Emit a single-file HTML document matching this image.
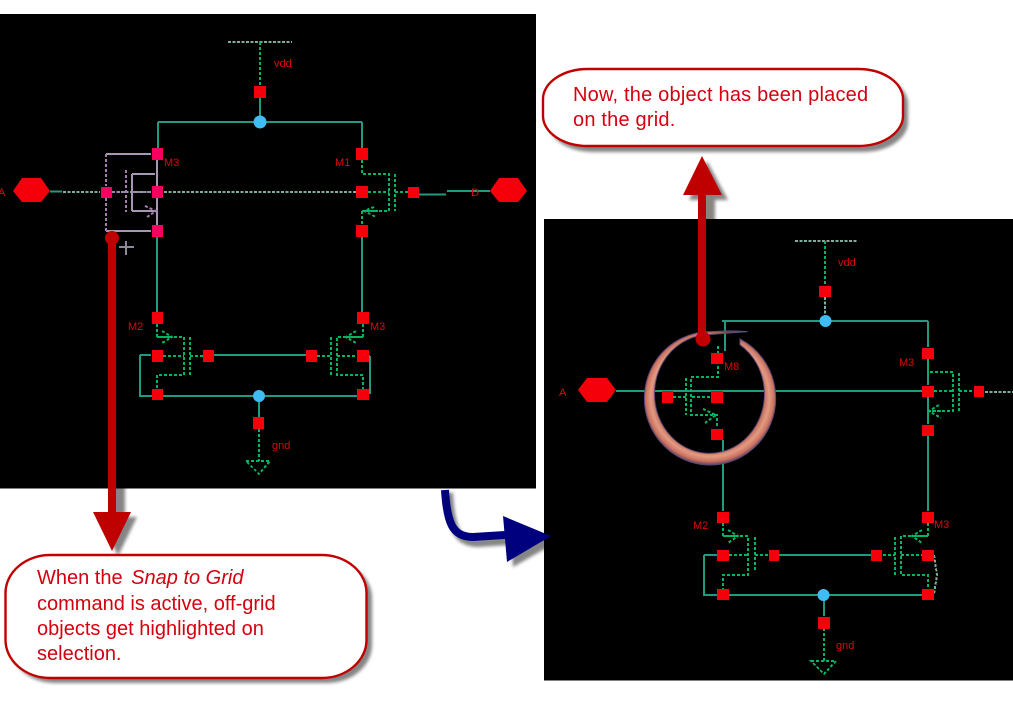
<!DOCTYPE html>
<html><head><meta charset="utf-8">
<style>
html,body{margin:0;padding:0;background:#fff;width:1013px;height:709px;overflow:hidden}
svg{display:block;position:absolute;left:0;top:0}
.w{stroke:#229a80;stroke-width:2;fill:none;shape-rendering:crispEdges}
.d{stroke:#00b562;stroke-width:2;fill:none;stroke-dasharray:3 2;shape-rendering:crispEdges}
.g{stroke:#7fae9f;stroke-width:2;fill:none;stroke-dasharray:3 1.5;shape-rendering:crispEdges}
.p{stroke:#a796b4;stroke-width:2;fill:none;shape-rendering:crispEdges}
.pd{stroke:#a87cb0;stroke-width:2;fill:none;stroke-dasharray:3 2;shape-rendering:crispEdges}
.s{fill:#f5000a;shape-rendering:crispEdges}
.k{fill:#f5005f;shape-rendering:crispEdges}
.b{fill:#3fbcf2}
.dm{fill:#f5000a}
.l{font:11px "Liberation Sans",sans-serif;fill:#dc0a0a}
.t{font:20px "Liberation Sans",sans-serif;fill:#d4000f}
</style></head><body>
<svg width="1013" height="709" viewBox="0 0 1013 709" xmlns="http://www.w3.org/2000/svg">
<defs>
<filter id="bl" x="-20%" y="-20%" width="140%" height="140%"><feGaussianBlur stdDeviation="1.6"/></filter>
<radialGradient id="ring" gradientUnits="userSpaceOnUse" cx="495" cy="322" r="202">
<stop offset="0.78" stop-color="#b95f4b"/>
<stop offset="0.88" stop-color="#e39a82"/>
<stop offset="0.95" stop-color="#cc7360"/>
<stop offset="1" stop-color="#6a4560"/>
</radialGradient>
</defs>

<!-- shadows -->
<g fill="#858585" filter="url(#bl)">
<rect x="10" y="560" width="362" height="123" rx="45" ry="38"/>
<rect x="548" y="74" width="360" height="78" rx="45" ry="30"/>
<polygon points="99,517 137,517 118,556"/>
<rect x="113" y="480" width="12" height="40"/>
<polygon points="689,200 728,200 707,161"/>
<rect x="703" y="195" width="12" height="30"/>
<path d="M449 493 C451 530 458 543 478 543 L509 541" fill="none" stroke="#858585" stroke-width="8"/>
<polygon points="509,522 513,567 557,542"/>
</g>

<!-- panels -->
<rect x="0" y="14" width="536" height="474.500" fill="#000"/>
<rect x="544" y="219" width="469" height="461.500" fill="#000"/>

<!-- LEFT schematic -->
<g>
<path class="g" d="M228 42H292"/>
<path class="d" d="M260 42V86"/>
<path class="w" d="M260 98V122M158 122H362M158 122V148M362 122V148M157 160V186M157 198V225M157 237V312M362 237V312M419 194.500H446"/>
<path class="w" d="M50 191.500H62M447 191H490M209 355H311M140 355H151M140 355V396H363M370 356V394M364 356H370M259 396V418"/>
<path class="g" d="M63 192H100M112 192H151M164 192H356"/>
<!-- selected device -->
<path class="p" d="M106 154H151M106 231H151M132 174V211M132 174H155M132 211H155M157 160V225"/>
<path class="pd" d="M106 154V186M106 198V231M126 170V212M112 192H126M132 192H151"/>
<path class="pd" d="M145 206L156 211L147 217"/>
<!-- M1 -->
<path class="d" d="M362 160V174H389V211H362V225M395 174V211M368 192H389M395 192H408M362 211H378M374 207L364 211L376 217"/>
<!-- M2 -->
<path class="d" d="M157 324V337H184V375H157V389M190 337V375M163 356H184M190 356H203M157 337H172M162 331L172 337L162 343"/>
<!-- M3 -->
<path class="d" d="M363 324V337H337V375H363V389M331 337V375M337 356H357M317 356H331M363 337H346M356 331L346 337L356 343"/>
<!-- gnd -->
<path class="d" d="M259 429V461M246 461H270L259 474Z"/>
<!-- nodes -->
<polygon class="dm" points="13,191 22,178 41,178 50,191 41,202 22,202"/>
<polygon class="dm" points="490,191 499,178 518,178 527,191 518,202 499,202"/>
<circle class="b" cx="260" cy="122" r="6.500"/>
<circle class="b" cx="259" cy="396" r="6"/>
<rect class="s" x="254" y="86" width="12" height="12"/>
<rect class="s" x="356" y="148" width="12" height="12"/>
<rect class="s" x="356" y="186" width="12" height="12"/>
<rect class="s" x="356" y="225" width="12" height="12"/>
<rect class="s" x="408" y="187" width="11" height="11"/>
<rect class="k" x="152" y="148" width="11" height="12"/>
<rect class="k" x="152" y="186" width="11" height="12"/>
<rect class="k" x="152" y="225" width="11" height="12"/>
<rect class="k" x="101" y="187" width="11" height="11"/>
<rect class="s" x="152" y="312" width="11" height="12"/>
<rect class="s" x="357" y="312" width="12" height="12"/>
<rect class="s" x="152" y="350" width="11" height="12"/>
<rect class="s" x="203" y="350" width="11" height="12"/>
<rect class="s" x="306" y="350" width="11" height="12"/>
<rect class="s" x="357" y="350" width="12" height="12"/>
<rect class="s" x="152" y="389" width="11" height="11"/>
<rect class="s" x="357" y="389" width="12" height="11"/>
<rect class="s" x="253" y="417" width="11" height="12"/>
<text class="l" x="-2" y="196">A</text>
<text class="l" x="471" y="196">D</text>
<text class="l" x="274" y="67">vdd</text>
<text class="l" x="164" y="166">M3</text>
<text class="l" x="335" y="166">M1</text>
<text class="l" x="128" y="330">M2</text>
<text class="l" x="370" y="330">M3</text>
<text class="l" x="272" y="449">gnd</text>
<!-- cursor -->
<path d="M119 247H134M126 241V255" stroke="#8a8a98" stroke-width="2" fill="none"/>
</g>

<!-- RIGHT schematic -->
<g>
<path class="g" d="M795 241H858"/>
<path class="d" d="M825 241V285"/>
<path class="g" d="M825 297V315"/>
<path class="w" d="M722 321H928M928 321V347M725 321V351M928 359V385M928 397V424M928 436V511M723 440V511M616 391H922"/>
<path class="w" d="M774 555H877M704 555H717M704 555V595H928M824 595V616"/>
<path class="g" d="M934 555L937 575L934 594M985 392H1013"/>
<!-- M8 -->
<path class="d" d="M718 346V377H691V415H717V428M686 378V415M673 397H686M692 397H711M703 409L716 415L705 423"/>
<!-- M1 -->
<path class="d" d="M928 359V372H953V411H928V424M959 373V411M934 391H953M959 391H973M928 411H945M939 405L929 411L941 418"/>
<!-- M2 -->
<path class="d" d="M723 523V536H748V575H723V589M755 537V572M729 555H748M755 555H768M723 536H738M728 530L738 536L728 543"/>
<!-- M3 -->
<path class="d" d="M928 523V536H901V575H928V589M895 537V575M901 555H922M883 555H895M928 536H913M922 530L912 536L922 543"/>
<!-- gnd -->
<path class="d" d="M824 628V661M811 661H836L824 674Z"/>
<polygon class="dm" points="578,390 587,378 607,378 616,390 607,402 587,402"/>
<circle class="b" cx="825.500" cy="321" r="6"/>
<circle class="b" cx="823.500" cy="595" r="6"/>
<rect class="s" x="819" y="286" width="12" height="11"/>
<rect class="s" x="922" y="348" width="12" height="11"/>
<rect class="s" x="922" y="386" width="12" height="11"/>
<rect class="s" x="922" y="425" width="12" height="11"/>
<rect class="s" x="974" y="386" width="10" height="11"/>
<rect class="s" x="662" y="391" width="11" height="12"/>
<rect class="s" x="711" y="353" width="12" height="11"/>
<rect class="s" x="711" y="391" width="12" height="12"/>
<rect class="s" x="711" y="429" width="12" height="11"/>
<rect class="s" x="717" y="512" width="12" height="11"/>
<rect class="s" x="922" y="512" width="12" height="11"/>
<rect class="s" x="717" y="550" width="12" height="11"/>
<rect class="s" x="769" y="550" width="10" height="11"/>
<rect class="s" x="871" y="550" width="11" height="11"/>
<rect class="s" x="922" y="550" width="12" height="11"/>
<rect class="s" x="717" y="589" width="12" height="11"/>
<rect class="s" x="922" y="589" width="12" height="11"/>
<rect class="s" x="818" y="617" width="12" height="12"/>
<text class="l" x="559" y="396">A</text>
<text class="l" x="838" y="266">vdd</text>
<text class="l" x="724" y="370">M8</text>
<text class="l" x="899" y="366">M3</text>
<text class="l" x="693" y="529">M2</text>
<text class="l" x="934" y="528">M3</text>
<text class="l" x="836" y="649">gnd</text>
</g>

<!-- hand-drawn ring: outer ellipse centre (495,325) r197/200, inner ellipse centre (493,312) r165/178 -->
<g transform="translate(545,290) scale(0.3333)">
<path fill="url(#ring)" stroke="#5c4a78" stroke-width="3" d="M608 125 Q560 120 498 125 A197 200 0 1 0 585 147 L585 164 A165 178 0 1 1 480 134.600 Q540 130 608 125Z"/>
</g>

<!-- red arrows -->
<g fill="#bf0000">
<rect x="108" y="238" width="8" height="276"/>
<circle cx="112" cy="238" r="7"/>
<polygon points="93,512 131,512 112,551"/>
<rect x="698" y="194" width="8" height="145"/>
<circle cx="703" cy="339" r="7.500"/>
<polygon points="683,195 722,195 702,156"/>
</g>

<!-- blue arrow -->
<path d="M445 490 C447 522 452 537 473 537 L505 535" fill="none" stroke="#00007f" stroke-width="8"/>
<polygon points="503,516 507,562 551,536" fill="#00007f"/>

<!-- callouts -->
<rect x="5.500" y="555" width="361" height="123" rx="45" ry="38" fill="#fff" stroke="#c00000" stroke-width="2.400"/>
<rect x="543" y="69" width="360" height="77" rx="45" ry="30" fill="#fff" stroke="#c00000" stroke-width="2.400"/>
<text class="t" x="37" y="584">When the <tspan dx="3" font-style="italic">Snap to Grid</tspan></text>
<text class="t" x="37" y="610">command is active, off-grid</text>
<text class="t" x="37" y="635">objects get highlighted on</text>
<text class="t" x="37" y="660">selection.</text>
<text class="t" x="573" y="101" letter-spacing="0.2">Now, the object has been placed</text>
<text class="t" x="573" y="126" letter-spacing="0.2">on the grid.</text>
</svg>
</body></html>
